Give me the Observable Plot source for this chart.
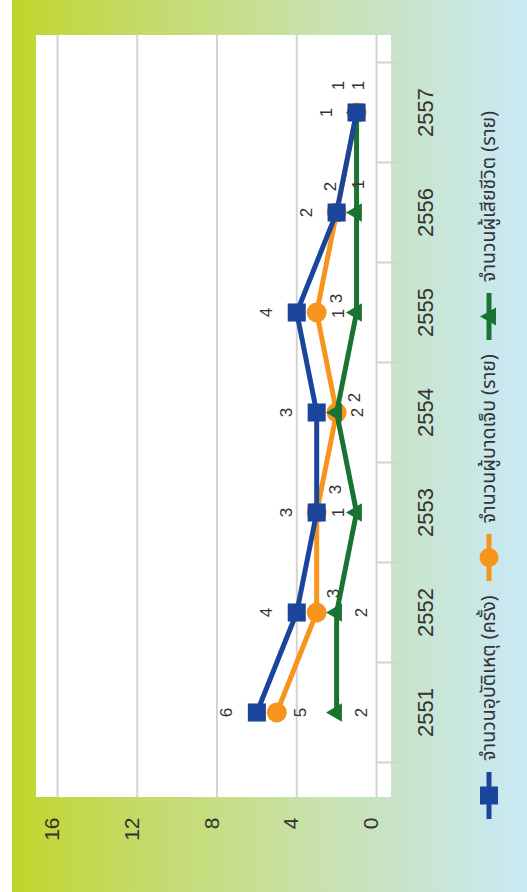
<!DOCTYPE html>
<html><head><meta charset="utf-8">
<script src="https://cdn.jsdelivr.net/npm/d3@7"></script>
<script src="https://cdn.jsdelivr.net/npm/@observablehq/plot@0.6"></script>
<style>
html,body{margin:0;padding:0;width:527px;height:892px;overflow:hidden;background:#fff;}
#stage{position:absolute;left:0;top:0;width:892px;height:527px;transform-origin:0 0;transform:translate(0,892px) rotate(-90deg);
background:linear-gradient(to bottom,#fff 0,#fff 12px,#c0d62b 12px,#c3d84c 80px,#c5db70 160px,#c7df8c 240px,#c8e1aa 310px,#c8e3c6 390px,#c9e6dc 450px,#c9e9f7 527px);
font-family:"Liberation Sans",Arial,sans-serif;color:#333;}
#panel{position:absolute;left:95px;top:36px;width:762px;height:355px;background:#fff;}
#chart{position:absolute;left:0;top:0;}
#legend{position:absolute;left:73px;top:477px;height:24px;display:flex;align-items:center;gap:14px;font-size:19.5px;color:#333;font-family:"Noto Sans Thai","Noto Sans","DejaVu Sans",sans-serif;white-space:nowrap;}
.item{display:flex;align-items:center;gap:11px;}
.item svg{display:block;}
</style></head>
<body>
<div id="stage"><div id="panel"></div><div id="chart"></div><div id="legend"></div></div>
<script>
const years = [2551, 2552, 2553, 2554, 2555, 2556, 2557];
const accidents = [6, 4, 3, 3, 4, 2, 1];
const injured = [5, 3, 3, 2, 3, 2, 1];
const deaths = [2, 2, 1, 2, 1, 1, 1];
const valueTicks = [0, 4, 8, 12, 16];
const seriesNames = ["จำนวนอุบัติเหตุ (ครั้ง)", "จำนวนผู้บาดเจ็บ (ราย)", "จำนวนผู้เสียชีวิต (ราย)"];
const seriesColors = ["#1b449c", "#f7941d", "#1a7431"];
const seriesSymbols = ["square", "circle", "triangle"];

// label nudges (layout only)
const nudgeAccidents = years.map(() => [0, -30]);
const nudgeInjured = [[0, 24], [19, 17], [23, 19], [15, 18], [14, 20], [26, -6], [27, -18]];
const nudgeDeaths = [[0, 25], [0, 25], [0, -18], [0, 21], [-1, -18], [28, 2], [27, 2]];

const series = [
  {name: seriesNames[0], values: accidents, color: seriesColors[0], symbol: seriesSymbols[0], r: 10.2, nudge: nudgeAccidents},
  {name: seriesNames[1], values: injured, color: seriesColors[1], symbol: seriesSymbols[1], r: 10, nudge: nudgeInjured},
  {name: seriesNames[2], values: deaths, color: seriesColors[2], symbol: seriesSymbols[2], r: 6.8, nudge: nudgeDeaths}
];
const drawOrder = [1, 2, 0];
const boundaries = [...years.map(y => y - 0.5), years[years.length - 1] + 0.5];

const marks = [
  Plot.ruleY(valueTicks, {stroke: "#d3d3d3", strokeWidth: 2}),
  Plot.axisY(valueTicks, {tickSize: 0, tickPadding: 21, fontSize: 21, dy: -5, label: null, fill: "#333"}),
  Plot.axisX(boundaries, {tickSize: 25, tickFormat: () => "", stroke: "#d3d3d3", strokeWidth: 2, label: null}),
  Plot.axisX(years, {tickSize: 0, tickPadding: 41, fontSize: 22, tickFormat: d => String(d), label: null, fill: "#333"})
];
for (const si of drawOrder) {
  const s = series[si];
  const rows = years.map((y, i) => ({year: y, value: s.values[i]}));
  marks.push(Plot.line(rows, {x: "year", y: "value", stroke: s.color, strokeWidth: 5}));
  marks.push(Plot.dot(rows, {x: "year", y: "value", fill: s.color, stroke: "none", symbol: s.symbol, r: s.r}));
}
for (const s of series) {
  s.values.forEach((v, i) => {
    marks.push(Plot.text([{year: years[i], value: v}], {
      x: "year", y: "value", text: d => String(d.value),
      dx: s.nudge[i][0], dy: s.nudge[i][1], fontSize: 17, fill: "#333"
    }));
  });
}

const chart = Plot.plot({
  width: 892, height: 527,
  marginLeft: 95, marginRight: 35, marginTop: 57, marginBottom: 151,
  x: {type: "linear", domain: [2550.5, 2557.5], insetLeft: 34, insetRight: 28},
  y: {domain: [0, 16]},
  style: {background: "transparent", fontFamily: "'Liberation Sans', Arial, sans-serif", color: "#333"},
  marks
});
document.getElementById("chart").appendChild(chart);

// legend
const legend = document.getElementById("legend");
series.forEach(s => {
  const item = document.createElement("div");
  item.className = "item";
  let marker;
  if (s.symbol === "square") marker = `<rect x="14.5" y="3" width="18" height="18" fill="${s.color}"/>`;
  else if (s.symbol === "circle") marker = `<circle cx="23.5" cy="12" r="9.5" fill="${s.color}"/>`;
  else marker = `<path d="M23.5,3 L32.5,19 L14.5,19 Z" fill="${s.color}"/>`;
  item.innerHTML = `<svg width="47" height="24"><line x1="0" x2="47" y1="12" y2="12" stroke="${s.color}" stroke-width="5"/>${marker}</svg><span>${s.name}</span>`;
  legend.appendChild(item);
});
</script>
</body></html>
